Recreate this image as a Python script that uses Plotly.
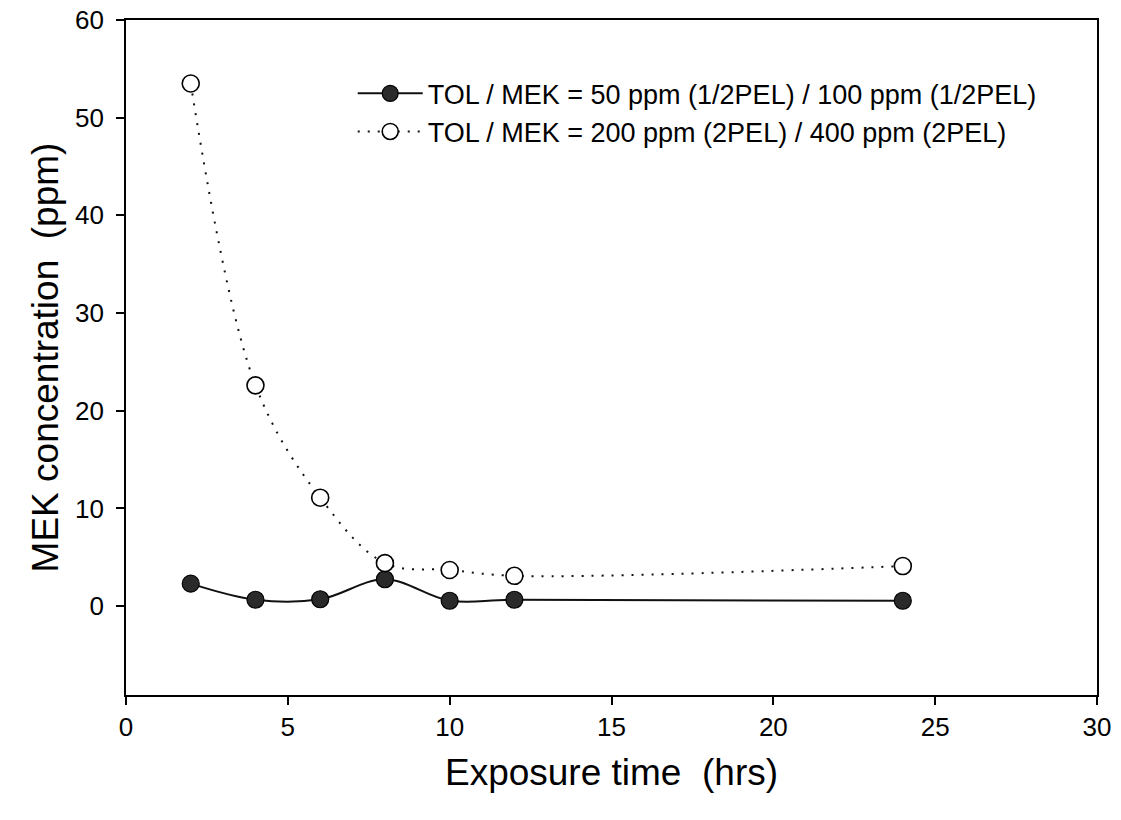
import plotly.graph_objects as go

# Exposure times (hrs)
hours = [2, 4, 6, 8, 10, 12, 24]

# MEK concentration (ppm) for the two exposure conditions
mek_low = [2.3, 0.65, 0.7, 2.75, 0.55, 0.65, 0.55]
mek_high = [53.5, 22.6, 11.1, 4.4, 3.7, 3.1, 4.1]

label_low = "TOL / MEK = 50 ppm (1/2PEL) / 100 ppm (1/2PEL)"
label_high = "TOL / MEK = 200 ppm (2PEL) / 400 ppm (2PEL)"

font_family = "Liberation Sans, Arial, sans-serif"

fig = go.Figure()

fig.add_trace(go.Scatter(
    x=hours, y=mek_low, name=label_low, mode="lines+markers",
    line=dict(color="#111111", width=2, shape="spline", smoothing=1.0),
    marker=dict(symbol="circle", size=17, color="#2a2a2a",
                line=dict(color="#000000", width=1.2)),
))

fig.add_trace(go.Scatter(
    x=hours, y=mek_high, name=label_high, mode="lines+markers",
    line=dict(color="#111111", width=2, dash="2px,8px", shape="spline", smoothing=1.0),
    marker=dict(symbol="circle", size=17, color="#ffffff",
                line=dict(color="#000000", width=1.6)),
))

axis_common = dict(
    showline=True, linecolor="#000000", linewidth=1.8, mirror=True,
    ticks="outside", ticklen=8, tickwidth=1.5, tickcolor="#000000",
    showgrid=False, zeroline=False, automargin=False,
    tickfont=dict(family=font_family, size=26, color="#000000"),
)

fig.update_xaxes(
    range=[0, 30], tickvals=[0, 5, 10, 15, 20, 25, 30],
    title=dict(text="Exposure time  (hrs)", standoff=18,
               font=dict(family=font_family, size=37, color="#000000")),
    **axis_common,
)
fig.update_yaxes(
    range=[-9.1, 60], tickvals=[0, 10, 20, 30, 40, 50, 60],
    ticklabelstandoff=7,
    title=dict(text="MEK concentration  (ppm)", standoff=5,
               font=dict(family=font_family, size=37, color="#000000")),
    **axis_common,
)

fig.update_layout(
    width=1121, height=820,
    margin=dict(l=126, r=24, t=20, b=125),
    paper_bgcolor="#ffffff", plot_bgcolor="#ffffff",
    showlegend=True,
    legend=dict(
        x=0.2335, y=0.927, xanchor="left", yanchor="top",
        bgcolor="rgba(0,0,0,0)", borderwidth=0,
        font=dict(family=font_family, size=27, color="#000000"),
        itemwidth=65, tracegroupgap=0,
    ),
)

fig.write_html("out.html")
